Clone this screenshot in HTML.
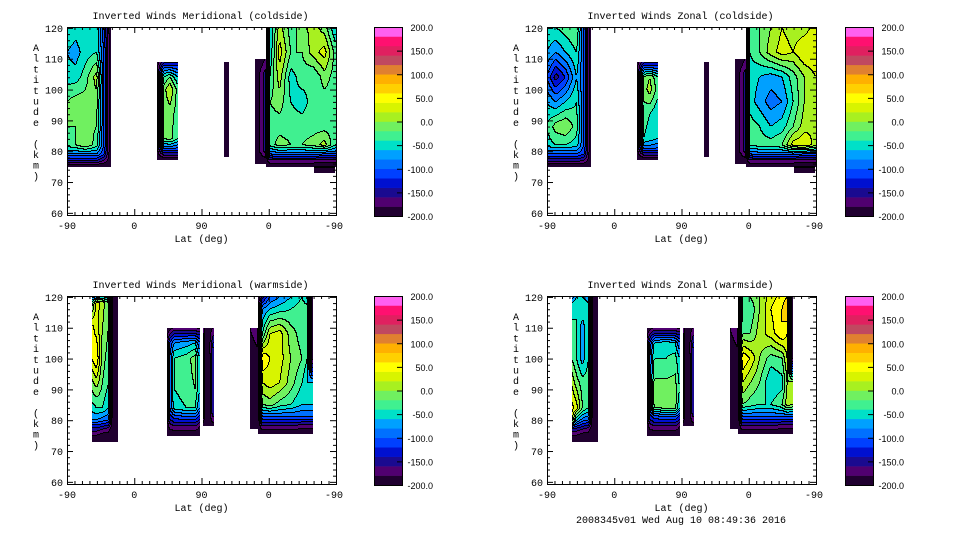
<!DOCTYPE html>
<html><head><meta charset="utf-8">
<style>
html,body{margin:0;padding:0;background:#fff;}
#root{position:relative;width:960px;height:540px;overflow:hidden;background:#fff;}
canvas{position:absolute;image-rendering:pixelated;}
svg{position:absolute;left:0;top:0;}
text{font-family:"Liberation Mono",monospace;font-size:10px;fill:#000;}
text.cbl{font-family:"Liberation Sans",sans-serif;font-size:9px;}
</style></head>
<body>
<div id="root">
<svg id="ov" width="960" height="540"></svg>
</div>
<script>
// ----- data -----
const colorLevels = [-200,-180,-160,-140,-120,-100,-80,-60,-40,-20,0,20,40,60,80,100,120,140,160,180];
const colorbarLabels = ["200.0","150.0","100.0","50.0","0.0","-50.0","-100.0","-150.0","-200.0"];
const xTickLabels = ["-90","0","90","0","-90"];
const yTickLabels = ["120","110","100","90","80","70","60"];
const panelTitles = ["Inverted Winds Meridional (coldside)","Inverted Winds Zonal (coldside)","Inverted Winds Meridional (warmside)","Inverted Winds Zonal (warmside)"];
const timestamp = "2008345v01 Wed Aug 10 08:49:36 2016";

const S = -200;
const coldA_lat=[0,12,25,40,50,59], coldA_alt=[120,112,104,96,88,82,79,76.5,75];
const coldB_lat=[120,125,130,138,149], coldB_alt=[109,107,104,100,92,84,81,79,77];
const stripC_lat=[210,217], stripC_alt=[109,78];
const coldD1_lat=[252,258,266], coldD1_alt=[110,105,80,77,76];
const coldD2_lat=[266,272,285,300,315,330,345,360], coldD2_alt=[120,112,104,96,88,82,79,77,75];
const coldD3_lat=[330,358], coldD3_alt=[75.5,73];

const merColdA=[[-40,-50,-40,-40,-120,S],[-60,-70,-50,-40,-100,S],[-50,-50,-30,10,-100,S],[-20,-10,-10,-10,-100,S],[-20,-20,-10,-20,-100,S],[-30,-20,0,-30,-100,S],[-80,-80,-80,-80,-120,S],[-150,-150,-150,-150,-170,S],[S,S,S,S,S,S]];
const merColdB=[[S,-170,-150,-150,-150],[S,-150,-100,-100,-110],[S,-120,-40,-20,-60],[S,-120,-10,20,-30],[S,-120,-20,-10,-30],[S,-120,-20,-10,-40],[S,-140,-90,-90,-100],[S,-170,-150,-150,-150],[S,S,S,S,S]];
const allBlack2=[[S,S],[S,S]];
const coldD1=[[S,S,-180],[S,-180,-150],[S,-180,-150],[S,S,-190],[S,S,S]];
const merColdD2=[[S,-60,10,-30,-10,10,-10,-60],[S,-60,30,-20,-20,10,30,-30],[S,-40,10,-50,-30,-40,-10,-30],[S,-20,-10,-40,-50,-30,-30,-30],[S,-30,-30,-30,-30,-30,-30,-30],[S,-30,-10,-20,-20,-10,10,-40],[S,-100,-90,-90,-90,-90,-100,-100],[S,-160,-160,-160,-160,-160,-170,-170],[S,S,S,S,S,S,S,S]];
const coldD3=[[-170,-170],[S,S]];

const zonColdA=[[-40,-40,-30,-20,-100,S],[-60,-80,-60,-40,-100,S],[-100,-150,-120,-60,-100,S],[-60,-80,-60,-40,-100,S],[-40,-10,0,-30,-100,S],[-50,-40,-40,-50,-100,S],[-100,-100,-100,-100,-120,S],[-160,-160,-160,-160,-170,S],[S,S,S,S,S,S]];
const zonColdB=[[S,-170,-150,-150,-150],[S,-150,-100,-100,-110],[S,-120,-20,0,-40],[S,-120,-10,10,-30],[S,-120,-30,-40,-60],[S,-120,-40,-50,-60],[S,-140,-90,-90,-100],[S,-170,-150,-150,-150],[S,S,S,S,S]];
const zonColdD2=[[S,-30,-20,0,20,10,10,30],[S,-40,-20,10,30,20,40,40],[S,-50,-60,-70,-60,-30,0,20],[S,-50,-70,-90,-80,-40,0,20],[S,-30,-40,-60,-50,-20,10,20],[S,-30,-30,-30,-20,30,40,10],[S,-100,-90,-90,-90,-90,-100,-100],[S,-160,-160,-160,-160,-160,-170,-170],[S,S,S,S,S,S,S,S]];

const warmA_lat=[33,40,48,56,62,68], warmA_alt=[120,118,110,100,92,84,80,77,75,73];
const warmB_lat=[134,138,144,160,172,178], warmB_alt=[110,108,105,100,90,84,81,78,75];
const warmB2_lat=[182,186,190,197], warmB2_alt=[110,105,82,78];
const warmD1_lat=[245,256], warmD1_alt=[110,100,80,77];
const warmD2_lat=[256,262,272,285,300,315,322,329], warmD2_alt=[120,116,108,100,92,85,81,78,75.5];

const merWarmA=[[-100,-80,-60,-80,S,S],[-40,30,10,-20,S,S],[50,30,0,-20,S,S],[40,60,-10,-30,S,S],[-10,10,-20,-40,S,S],[-50,-40,-40,-60,S,S],[-80,-80,-90,-100,S,S],[-150,-150,-160,-170,S,S],[-180,-180,-190,-190,S,S],[S,S,S,S,S,S]];
const merWarmB=[[S,-190,-180,-180,-180,-190],[-190,-160,-140,-140,-140,-150],[-180,-120,-80,-70,-60,-100],[-180,-100,-40,-30,-10,-60],[-180,-100,-40,-30,-20,-60],[-180,-100,-50,-40,-40,-80],[-190,-130,-110,-100,-100,-130],[S,-170,-160,-160,-160,-180],[S,S,S,S,S,S]];
const warmB2=[[-180,-180,-190,-180],[-120,S,S,-130],[-130,S,S,-140],[-190,S,S,-190]];
const warmD1=[[-180,-160],[S,-190],[S,S],[S,S]];
const merWarmD2=[[S,-150,-100,-80,-60,-40,-60,S],[S,-80,-60,-50,-40,-30,-30,S],[S,-40,20,30,-10,-30,-30,S],[S,60,40,30,0,-20,-40,S],[S,20,30,20,-10,-40,-60,-60],[S,-20,-10,-30,-40,-60,-60,-60],[S,-100,-100,-100,-100,-100,-100,-100],[S,-160,-160,-160,-160,-170,-170,-170],[S,S,S,S,S,S,S,S]];

const zonWarmA=[[-100,-60,-60,-80,S,S],[-60,-40,-40,-60,S,S],[-30,-40,-70,-40,S,S],[-20,-40,-70,-40,S,S],[20,-10,-30,-30,S,S],[50,30,-20,-40,S,S],[40,-60,-90,-100,S,S],[-150,-150,-160,-170,S,S],[-180,-180,-190,-190,S,S],[S,S,S,S,S,S]];
const zonWarmB=[[S,-190,-180,-180,-180,-190],[-190,-160,-140,-140,-140,-150],[-180,-120,-60,-50,-60,-100],[-180,-100,-40,-40,-30,-60],[-180,-100,-10,-10,-10,-40],[-180,-100,-20,-10,-10,-60],[-190,-130,-110,-100,-100,-130],[S,-170,-160,-160,-160,-180],[S,S,S,S,S,S]];
const zonWarmD2=[[S,-40,-20,0,30,50,60,S],[S,-40,-40,0,40,60,80,S],[S,-20,-20,10,30,60,40,S],[S,60,40,0,-30,-20,20,S],[S,20,0,-20,-60,-50,0,10],[S,-20,-30,-40,-40,-20,10,0],[S,-100,-100,-100,-100,-100,-100,-100],[S,-160,-160,-160,-160,-170,-170,-170],[S,S,S,S,S,S,S,S]];

const panels=[
 {x:67,y:27,cb:374,strips:[[coldA_lat,coldA_alt,merColdA],[coldB_lat,coldB_alt,merColdB],[stripC_lat,stripC_alt,allBlack2],[coldD1_lat,coldD1_alt,coldD1],[coldD2_lat,coldD2_alt,merColdD2],[coldD3_lat,coldD3_alt,coldD3]]},
 {x:547,y:27,cb:845,strips:[[coldA_lat,coldA_alt,zonColdA],[coldB_lat,coldB_alt,zonColdB],[stripC_lat,stripC_alt,allBlack2],[coldD1_lat,coldD1_alt,coldD1],[coldD2_lat,coldD2_alt,zonColdD2],[coldD3_lat,coldD3_alt,coldD3]]},
 {x:67,y:296,cb:374,strips:[[warmA_lat,warmA_alt,merWarmA],[warmB_lat,warmB_alt,merWarmB],[warmB2_lat,warmB2_alt,warmB2],[warmD1_lat,warmD1_alt,warmD1],[warmD2_lat,warmD2_alt,merWarmD2]]},
 {x:547,y:296,cb:845,strips:[[warmA_lat,warmA_alt,zonWarmA],[warmB_lat,warmB_alt,zonWarmB],[warmB2_lat,warmB2_alt,warmB2],[warmD1_lat,warmD1_alt,warmD1],[warmD2_lat,warmD2_alt,zonWarmD2]]}
];
const palette=["#200030","#500070","#1a0a90","#0010d0","#0040ff","#0070ff","#00a0ff","#00e0c8","#40f090","#70f060","#a8f020","#d8f400","#ffff00","#ffd000","#ffb000","#e08030","#c04860","#e02060","#ff1070","#ff60f0"];

// ----- geometry -----
const W=269,H=188,ALT_TOP=120.3,ALT_BOT=59.3,CBW=28,CBH=189;
const xScale=v=>v/360*W;
const yScale=a=>(ALT_TOP-a)/(ALT_TOP-ALT_BOT)*H;
const NS="http://www.w3.org/2000/svg";
const ov=document.getElementById('ov');
const root=document.getElementById('root');
function mk(tag,attrs,parent){const e=document.createElementNS(NS,tag);for(const k in attrs)e.setAttribute(k,attrs[k]);(parent||ov).appendChild(e);return e;}
function bandOf(val){let b=0;for(let i=0;i<colorLevels.length;i++){if(val>=colorLevels[i])b=i;}return b;}
function seg(arr,v,desc){for(let i=0;i<arr.length-1;i++){const a=arr[i],b=arr[i+1];if(desc?(v<=a&&v>=b):(v>=a&&v<=b)){return [i,(v-a)/(b-a)];}}return null;}
function sample(strips,v,alt){
 for(const [lat,al,val] of strips){
  if(v<lat[0]||v>lat[lat.length-1]||alt>al[0]||alt<al[al.length-1])continue;
  const si=seg(lat,v,false),sj=seg(al,alt,true);if(!si||!sj)continue;
  const [i,fx]=si,[j,fy]=sj;
  const a=val[j][i],b=val[j][i+1],c=val[j+1][i],d=val[j+1][i+1];
  return (a*(1-fx)+b*fx)*(1-fy)+(c*(1-fx)+d*fx)*fy;
 }
 return null;
}

panels.forEach((p,pi)=>{
 const cv=document.createElement('canvas');
 cv.width=W;cv.height=H;cv.style.left=p.x+'px';cv.style.top=p.y+'px';
 
 
 root.insertBefore(cv,ov);
 const ctx=cv.getContext('2d');const img=ctx.createImageData(W,H);
 const bands=new Int16Array(W*H).fill(-1);
 for(let py=0;py<H;py++)for(let px=0;px<W;px++){
  const v=(px+0.5)/W*360,alt=ALT_TOP-(py+0.5)/H*(ALT_TOP-ALT_BOT);
  const s=sample(p.strips,v,alt);if(s!==null)bands[py*W+px]=bandOf(s);
 }
 for(let py=0;py<H;py++)for(let px=0;px<W;px++){
  const b=bands[py*W+px];const k=(py*W+px)*4;
  if(b<0){img.data[k]=255;img.data[k+1]=255;img.data[k+2]=255;img.data[k+3]=255;continue;}
  let edge=false;
  if(px<W-1){const r=bands[py*W+px+1];if(r>=0&&r!==b)edge=true;}
  if(py<H-1){const d=bands[(py+1)*W+px];if(d>=0&&d!==b)edge=true;}
  let col=edge?"#000000":palette[b];
  img.data[k]=parseInt(col.substr(1,2),16);img.data[k+1]=parseInt(col.substr(3,2),16);img.data[k+2]=parseInt(col.substr(5,2),16);img.data[k+3]=255;
 }
 ctx.putImageData(img,0,0);

 const g=mk('g',{});
 
 
 const fr=mk('rect',{x:p.x+0.5,y:p.y+0.5,width:W,height:H,fill:'none',stroke:'#000','stroke-width':1},g);
 
 
 for(let a=60;a<=120;a+=2){
  const y=p.y+0.5+yScale(a);const L=(a%10===0)?6:3;
  mk('line',{x1:p.x,y1:y,x2:p.x+L,y2:y,stroke:'#000'},g);
  mk('line',{x1:p.x+W,y1:y,x2:p.x+W-L,y2:y,stroke:'#000'},g);
 }
 yTickLabels.forEach((t,i)=>{
  const a=120-i*10;
  const tx=mk('text',{x:p.x-4,y:p.y+yScale(a)+4,'text-anchor':'end'},g);tx.textContent=t;
  
  
 });
 for(let v=0;v<=360;v+=10){
  const x=p.x+0.5+xScale(v);const L=(v%90===0)?6:3;
  mk('line',{x1:x,y1:p.y+H,x2:x,y2:p.y+H-L,stroke:'#000'},g);
  mk('line',{x1:x,y1:p.y,x2:x,y2:p.y+L,stroke:'#000'},g);
 }
 xTickLabels.forEach((t,i)=>{
  const tx=mk('text',{x:p.x+xScale(i*90)+(i===4?-2:0),y:p.y+H+14,'text-anchor':'middle'},g);tx.textContent=t;
  
  
 });
 const xt=mk('text',{x:p.x+W/2,y:p.y+H+27,'text-anchor':'middle'},g);xt.textContent="Lat (deg)";
 
 
 const yt=mk('text',{x:36,y:0,'text-anchor':'middle'},g);
 
 
 "Altitude (km)".split('').forEach((c,i)=>{const ts=mk('tspan',{x:p.x-31,y:p.y+24+i*10.7},yt);ts.textContent=c;});
 const tt=mk('text',{x:p.x+W/2-1,y:p.y-8,'text-anchor':'middle'},g);tt.textContent=panelTitles[pi];
 
 
 const cbg=mk('g',{},g);
 
 
 const bh=CBH/palette.length;
 palette.forEach((c,i)=>{
  const r=mk('rect',{x:p.cb,y:p.y+CBH-(i+1)*bh,width:CBW,height:bh+0.3,fill:c},cbg);
  
  
 });
 mk('rect',{x:p.cb+0.5,y:p.y+0.5,width:CBW,height:CBH,fill:'none',stroke:'#000'},cbg);
 colorbarLabels.forEach((t,i)=>{
  const y=p.y+i*CBH/8;
  mk('line',{x1:p.cb+CBW-5,y1:y+0.5,x2:p.cb+CBW,y2:y+0.5,stroke:'#000'},cbg);
  const tx=mk('text',{x:p.cb+59,y:y+4,'text-anchor':'end','class':'cbl'},cbg);tx.textContent=t;
  
  
 });
});
const ts=mk('text',{x:681,y:523,'text-anchor':'middle'});ts.textContent=timestamp;


</script>
</body></html>
